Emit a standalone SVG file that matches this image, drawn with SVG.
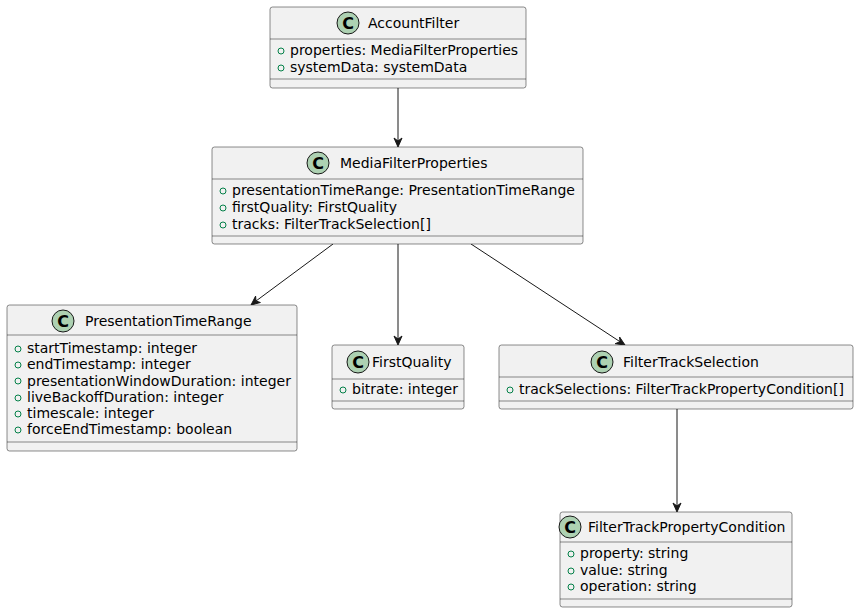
<svg xmlns="http://www.w3.org/2000/svg" width="859" height="613" viewBox="0 0 859 613">
<style>
.box{fill:#F1F1F1;stroke:#181818;stroke-width:0.5}
.sep{stroke:#181818;stroke-width:0.5}
.ci{fill:#ADD1B2;stroke:#181818;stroke-width:1}
.cl{font-family:"DejaVu Sans",sans-serif;font-size:16px;font-weight:bold;fill:#000;text-anchor:middle}
.t{font-family:"DejaVu Sans",sans-serif;font-size:14px;fill:#000}
.f{font-family:"DejaVu Sans",sans-serif;font-size:14px;fill:#000}
.v{fill:none;stroke:#038048;stroke-width:1}
.e{stroke:#181818;stroke-width:1;fill:none}
.ah{fill:#181818;stroke:#181818;stroke-width:1}
</style>
<rect width="859" height="613" fill="#FFFFFF"/>
<g id="connectors">
<line class="e" x1="398" y1="88" x2="398" y2="141"/>
<polygon class="ah" points="398,147 394,138 398,141 402,138"/>
<line class="e" x1="333" y1="244" x2="256" y2="301"/>
<polygon class="ah" points="251,305 255.6,296.1 256,301 260.4,302.5"/>
<line class="e" x1="398" y1="244" x2="398" y2="339"/>
<polygon class="ah" points="398,345 394,336 398,339 402,336"/>
<line class="e" x1="471" y1="244" x2="620" y2="341.7"/>
<polygon class="ah" points="625,345 615.2,343.7 620,341.7 619.6,337"/>
<line class="e" x1="677" y1="409" x2="677" y2="506"/>
<polygon class="ah" points="677,512 673,503 677,506 681,503"/>
</g>
<g id="AccountFilter">
<rect class="box" x="270" y="7" width="256" height="81" rx="2.5"/>
<circle class="ci" cx="348" cy="23" r="11"/>
<text class="cl" x="348" y="28.5">C</text>
<text class="t" x="368" y="28">AccountFilter</text>
<line class="sep" x1="270" y1="39" x2="526" y2="39"/>
<circle class="v" cx="281" cy="51" r="3"/>
<text class="f" x="290" y="55">properties: MediaFilterProperties</text>
<circle class="v" cx="281" cy="68" r="3"/>
<text class="f" x="290" y="72">systemData: systemData</text>
<line class="sep" x1="270" y1="79" x2="526" y2="79"/>
</g>
<g id="MediaFilterProperties">
<rect class="box" x="212" y="147" width="371" height="97" rx="2.5"/>
<circle class="ci" cx="318" cy="163" r="11"/>
<text class="cl" x="318" y="168.5">C</text>
<text class="t" x="340" y="168">MediaFilterProperties</text>
<line class="sep" x1="212" y1="179" x2="583" y2="179"/>
<circle class="v" cx="223" cy="191" r="3"/>
<text class="f" x="232" y="195">presentationTimeRange: PresentationTimeRange</text>
<circle class="v" cx="223" cy="208" r="3"/>
<text class="f" x="232" y="212">firstQuality: FirstQuality</text>
<circle class="v" cx="223" cy="225" r="3"/>
<text class="f" x="232" y="229">tracks: FilterTrackSelection[]</text>
<line class="sep" x1="212" y1="236" x2="583" y2="236"/>
</g>
<g id="PresentationTimeRange">
<rect class="box" x="7" y="305" width="290" height="146" rx="2.5"/>
<circle class="ci" cx="63" cy="321" r="11"/>
<text class="cl" x="63" y="326.5">C</text>
<text class="t" x="85" y="326">PresentationTimeRange</text>
<line class="sep" x1="7" y1="335" x2="297" y2="335"/>
<circle class="v" cx="18" cy="349" r="3"/>
<text class="f" x="27" y="353">startTimestamp: integer</text>
<circle class="v" cx="18" cy="365" r="3"/>
<text class="f" x="27" y="369">endTimestamp: integer</text>
<circle class="v" cx="18" cy="381" r="3"/>
<text class="f" x="27" y="385.5">presentationWindowDuration: integer</text>
<circle class="v" cx="18" cy="398" r="3"/>
<text class="f" x="27" y="402">liveBackoffDuration: integer</text>
<circle class="v" cx="18" cy="414" r="3"/>
<text class="f" x="27" y="418">timescale: integer</text>
<circle class="v" cx="18" cy="430" r="3"/>
<text class="f" x="27" y="434">forceEndTimestamp: boolean</text>
<line class="sep" x1="7" y1="442" x2="297" y2="442"/>
</g>
<g id="FirstQuality">
<rect class="box" x="332" y="345" width="132" height="64" rx="2.5"/>
<circle class="ci" cx="358" cy="362" r="11"/>
<text class="cl" x="358" y="367.5">C</text>
<text class="t" x="372" y="367">FirstQuality</text>
<line class="sep" x1="332" y1="379" x2="464" y2="379"/>
<circle class="v" cx="343" cy="390" r="3"/>
<text class="f" x="352" y="394">bitrate: integer</text>
<line class="sep" x1="332" y1="401" x2="464" y2="401"/>
</g>
<g id="FilterTrackSelection">
<rect class="box" x="499" y="345" width="354" height="64" rx="2.5"/>
<circle class="ci" cx="602" cy="362" r="11"/>
<text class="cl" x="602" y="367.5">C</text>
<text class="t" x="623" y="367">FilterTrackSelection</text>
<line class="sep" x1="499" y1="377" x2="853" y2="377"/>
<circle class="v" cx="510" cy="390" r="3"/>
<text class="f" x="519" y="394">trackSelections: FilterTrackPropertyCondition[]</text>
<line class="sep" x1="499" y1="401" x2="853" y2="401"/>
</g>
<g id="FilterTrackPropertyCondition">
<rect class="box" x="560" y="512" width="232" height="95" rx="2.5"/>
<circle class="ci" cx="570" cy="527" r="11"/>
<text class="cl" x="570" y="532.5">C</text>
<text class="t" x="588" y="532">FilterTrackPropertyCondition</text>
<line class="sep" x1="560" y1="542" x2="792" y2="542"/>
<circle class="v" cx="571" cy="554" r="3"/>
<text class="f" x="580" y="558">property: string</text>
<circle class="v" cx="571" cy="571" r="3"/>
<text class="f" x="580" y="575">value: string</text>
<circle class="v" cx="571" cy="587" r="3"/>
<text class="f" x="580" y="591">operation: string</text>
<line class="sep" x1="560" y1="599" x2="792" y2="599"/>
</g>
</svg>
